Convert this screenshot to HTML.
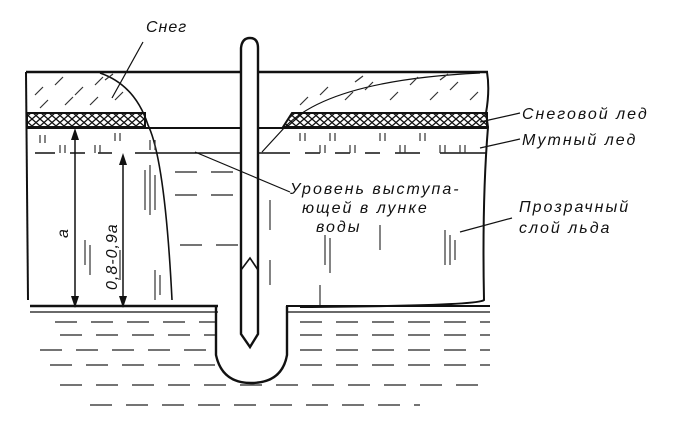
<!DOCTYPE html>
<html><head><meta charset="utf-8"><style>
body{margin:0;background:#fff}
svg{display:block}
text{font-family:"Liberation Sans",sans-serif;font-style:italic;fill:#111}
</style></head><body>
<svg width="694" height="429" viewBox="0 0 694 429" xmlns="http://www.w3.org/2000/svg">
<defs>
<pattern id="x" width="8" height="7" patternUnits="userSpaceOnUse">
<path d="M0 0L8 7M8 0L0 7" stroke="#111" stroke-width="1.3"/>
</pattern>
</defs>
<g stroke="#111" fill="none" stroke-width="2">
<line x1="26" y1="72" x2="488" y2="72" stroke-width="2.5"/>
<line x1="26" y1="72" x2="28" y2="300"/>
<path d="M487 72 Q490 90 486 113 L488 127 Q482 200 484 300 Q478 306 300 307"/>
<rect x="27" y="113" width="118" height="14" fill="url(#x)" stroke-width="2"/>
<path d="M283 127 L292 113 L487 113 L487 127 Z" fill="url(#x)"/>
<line x1="26" y1="128" x2="488" y2="128"/>
<path d="M100 73 Q135 85 148 125 Q165 160 172 300" stroke-width="1.6"/>
<path d="M480 73 Q330 80 285 127 L262 152" stroke-width="1.2"/>
<path d="M35 153H55M70 153H85M98 153H112M135 153H240M258 153H290M305 153H320M335 153H350M365 153H380M395 153H420M440 153H487" stroke-width="1.5"/>
<line x1="30" y1="306" x2="218" y2="306" stroke-width="2.5"/>
<line x1="286" y1="306" x2="490" y2="306" stroke-width="2"/>
<line x1="30" y1="312" x2="218" y2="312" stroke-width="1.3"/>
<line x1="286" y1="312" x2="490" y2="312" stroke-width="1.3"/>
<path d="M216 306 L216 355 Q222 383 251 383 Q282 383 287 355 L287 306" stroke-width="2.4"/>
<path d="M241 334 L241 48 Q242 38 250 38 Q258 38 258 48 L258 334 L250 347 Z" stroke-width="2.4" fill="#fff"/>
<path d="M241 270 L250 258 L258 270" stroke-width="1.6"/>
<line x1="75" y1="135" x2="75" y2="302" stroke-width="1.5"/>
<line x1="123" y1="160" x2="123" y2="302" stroke-width="1.5"/>
<line x1="143" y1="42" x2="112" y2="98" stroke-width="1.2"/>
<line x1="195" y1="152" x2="290" y2="192" stroke-width="1.2"/>
<line x1="480" y1="122" x2="520" y2="113" stroke-width="1.2"/>
<line x1="480" y1="148" x2="520" y2="139" stroke-width="1.2"/>
<line x1="460" y1="232" x2="512" y2="218" stroke-width="1.2"/>
</g>
<g fill="#111">
<path d="M75 128 L71 140 L79 140Z M75 308 L71 296 L79 296Z M123 153 L119 165 L127 165Z M123 308 L119 296 L127 296Z"/>
</g>
<g stroke="#222" stroke-width="1.3" stroke-dasharray="22 14">
<line x1="55" y1="322" x2="215" y2="322"/>
<line x1="300" y1="322" x2="490" y2="322"/>
<line x1="60" y1="335" x2="215" y2="335"/>
<line x1="300" y1="335" x2="490" y2="335"/>
<line x1="40" y1="350" x2="215" y2="350"/>
<line x1="300" y1="350" x2="490" y2="350"/>
<line x1="50" y1="365" x2="215" y2="365"/>
<line x1="300" y1="365" x2="490" y2="365"/>
<line x1="60" y1="385" x2="490" y2="385"/>
<line x1="90" y1="405" x2="420" y2="405"/>
<line x1="175" y1="172" x2="240" y2="172"/>
<line x1="175" y1="195" x2="240" y2="195"/>
<line x1="180" y1="245" x2="240" y2="245"/>
</g>
<g stroke="#333" stroke-width="1.2">
<path d="M40 135v8M45 135v8M115 133v8M120 133v8M300 133v8M305 133v8M330 133v8M335 133v8M380 133v8M385 133v8M420 133v8M425 133v8M60 145v8M65 145v8M95 145v8M100 145v8M150 140v10M155 140v10M320 145v8M325 145v8M350 145v8M355 145v8M400 145v8M405 145v8M440 145v8M445 145v8M460 145v8M465 145v8"/>
<path d="M145 170v40M150 165v50M155 175v35M85 240v25M90 245v30M120 250v30M325 235v30M330 238v35M380 225v25M445 230v35M450 235v30M455 240v20M320 285v20M155 270v30M160 275v20M270 200v30M270 260v25"/>
</g>
<g stroke="#333" stroke-width="1.2">
<path d="M35 95l8-8M55 85l8-8M75 95l8-8M95 85l8-8M40 108l8-8M65 105l8-8M90 105l8-8M115 100l8-8M105 80l8-6M300 105l8-8M320 95l8-8M345 100l8-8M365 90l8-8M390 100l8-8M410 85l8-8M430 100l8-8M450 90l8-8M470 100l8-8M355 82l8-6M440 80l8-6"/>
</g>
<g font-size="16" letter-spacing="2">
<text x="146" y="32" letter-spacing="1">Снег</text>
<text x="522" y="119">Снеговой лед</text>
<text x="522" y="145">Мутный лед</text>
<text x="519" y="212">Прозрачный</text>
<text x="519" y="233">слой льда</text>
<text x="290" y="194">Уровень выступа-</text>
<text x="302" y="213">ющей в лунке</text>
<text x="316" y="232">воды</text>
<text transform="translate(68 238) rotate(-90)">a</text>
<text transform="translate(117 290) rotate(-90)" letter-spacing="1">0,8-0,9a</text>
</g>
</svg>
</body></html>
